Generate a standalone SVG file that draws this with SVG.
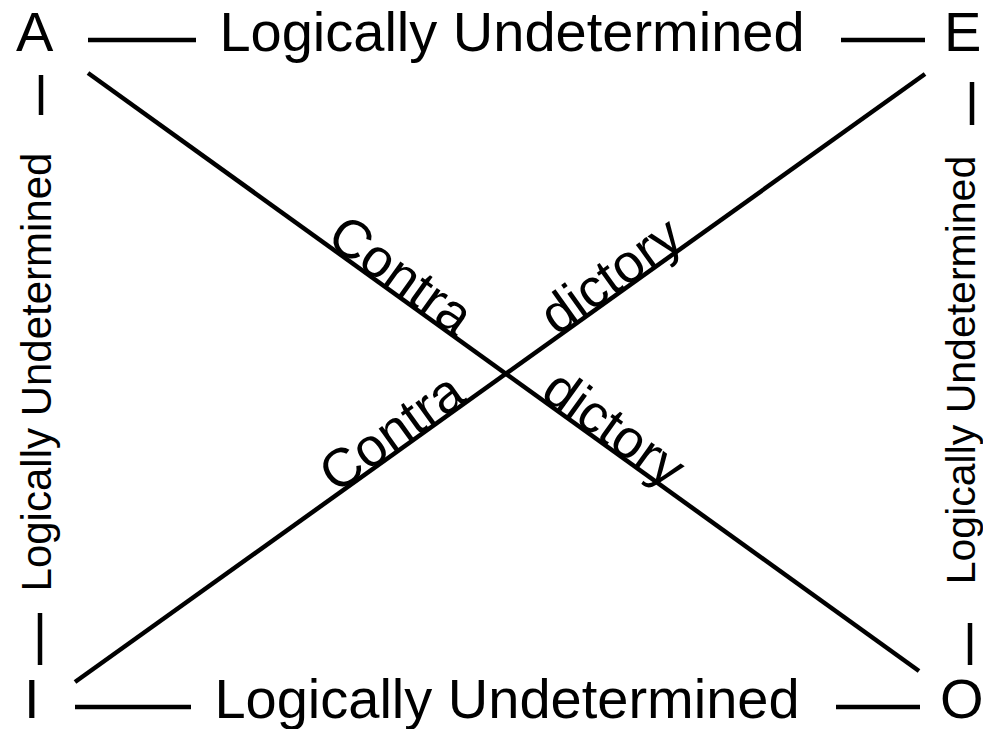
<svg xmlns="http://www.w3.org/2000/svg" width="983" height="729" viewBox="0 0 983 729">
<style>
.t{font-family:"Liberation Sans",Arial,Helvetica,sans-serif;fill:#000}
.big{font-size:56px}
.side{font-size:42px}
.lbl{font-size:54px}
.ln{stroke:#000;stroke-width:4.5;fill:none;stroke-linecap:butt}
</style>
<rect width="983" height="729" fill="#fff"/>
<g id="node-A"><text class="t big" x="16" y="51">A</text></g>
<g id="node-E"><text class="t big" x="944" y="51">E</text></g>
<g id="node-I"><text class="t big" x="24" y="718">I</text></g>
<g id="node-O"><text class="t big" x="940" y="718">O</text></g>
<g id="connectors">
  <g id="edge-A-E">
    <line class="ln" x1="88" y1="40" x2="196" y2="40"/>
    <text class="t big" x="512" y="51" text-anchor="middle">Logically Undetermined</text>
    <line class="ln" x1="841" y1="40" x2="925" y2="40"/>
  </g>
  <g id="edge-I-O">
    <line class="ln" x1="75" y1="707" x2="191" y2="707"/>
    <text class="t big" x="507" y="718" text-anchor="middle">Logically Undetermined</text>
    <line class="ln" x1="836" y1="707" x2="920" y2="707"/>
  </g>
  <g id="edge-A-I">
    <line class="ln" x1="41" y1="75" x2="41" y2="115"/>
    <text class="t side" transform="translate(51,372) rotate(-90)" text-anchor="middle">Logically Undetermined</text>
    <line class="ln" x1="40" y1="613" x2="40" y2="665"/>
  </g>
  <g id="edge-E-O">
    <line class="ln" x1="972" y1="82" x2="972" y2="125"/>
    <text class="t side" style="font-size:41px" transform="translate(975,370) rotate(-90)" text-anchor="middle">Logically Undetermined</text>
    <line class="ln" x1="970" y1="623" x2="970" y2="665"/>
  </g>
  <g id="edge-A-O">
    <line class="ln" x1="88" y1="73" x2="919" y2="671"/>
    <g transform="translate(506,374) rotate(35.74)">
      <text class="t lbl" x="-62" y="-1" text-anchor="end">Contra</text>
      <text class="t lbl" x="40" y="-1">dictory</text>
    </g>
  </g>
  <g id="edge-I-E">
    <line class="ln" x1="75" y1="682" x2="925" y2="74"/>
    <g transform="translate(506,374) rotate(-35.57)">
      <text class="t lbl" x="-46" y="-1" text-anchor="end">Contra</text>
      <text class="t lbl" x="63" y="-1">dictory</text>
    </g>
  </g>
</g>
</svg>
